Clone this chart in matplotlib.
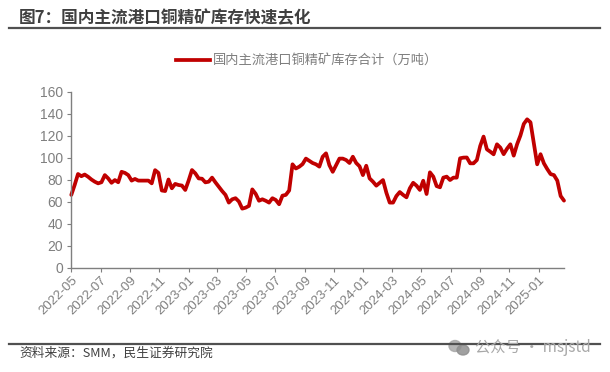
import pandas as pd
import matplotlib
matplotlib.use('Agg')
import matplotlib.pyplot as plt
import matplotlib.dates as mdates
from matplotlib.lines import Line2D
from matplotlib.patches import Ellipse

plt.rcParams['font.family'] = ['Noto Sans CJK SC', 'DejaVu Sans']

# weekly readings (10k tons)
inventory = [
    66, 75, 85, 83, 84.5, 82.5, 80, 78, 76.5, 77.5, 84, 81, 77, 79.5, 77.5, 87, 86, 84,
    79, 80.5, 79, 79, 79, 79, 76.5, 88.5, 86, 70, 69.5, 80, 72, 76, 75, 74.5, 70.5, 79,
    88.6, 85.6, 81, 80.7, 77.4, 78, 81.7, 77.4, 73.5, 69.5, 66, 59, 62, 63, 60, 53.5,
    54.4, 56, 71, 67, 60.7, 62, 60.7, 59, 63, 61.4, 57.5, 65.3, 66, 70, 93.8, 90, 91.6,
    94, 99, 97, 95, 93.8, 91.7, 100.7, 103.8, 93, 87, 93, 99, 99, 97.7, 95, 100.7, 95,
    92, 84, 92.5, 81, 78, 74.4, 77, 79.5, 68, 59, 59, 65, 68.6, 66, 63.8, 72, 77, 74.4,
    70.5, 78.9, 66.8, 86.5, 82.6, 74, 72.9, 81.7, 82.6, 79.5, 81.7, 81.7, 99.3, 99.9,
    100, 94.7, 94.7, 97.7, 110.5, 119, 107.4, 105.3, 102.9, 112, 109, 103, 108, 112,
    101.7, 112, 120, 130.5, 134.7, 132, 112.9, 93.8, 103, 94.7, 89.5, 84.9, 84, 79, 65,
    60.8,
]
dates = pd.date_range('2022-05-01', periods=len(inventory), freq='7D')
yticks = [0, 20, 40, 60, 80, 100, 120, 140, 160]

title = '图7：国内主流港口铜精矿库存快速去化'
series_name = '国内主流港口铜精矿库存合计（万吨）'
source = '资料来源：SMM，民生证券研究院'
watermark = '公众号 · msjstd'

W, H = 610, 372
fig = plt.figure(figsize=(W / 100, H / 100), dpi=100)
ax = fig.add_axes([71.3 / W, 1 - 267.5 / H, (564 - 71.3) / W, 176 / H])

ax.plot(dates, inventory, color='#C00000', lw=2.7, solid_joinstyle='round', solid_capstyle='round', clip_on=False)
ax.set_xlim(dates[0], dates[-1])
ax.set_ylim(0, 160)
ax.set_yticks(yticks)
ax.xaxis.set_major_locator(mdates.MonthLocator(bymonth=[1, 3, 5, 7, 9, 11]))
ax.xaxis.set_major_formatter(mdates.DateFormatter('%Y-%m'))
for s in ['top', 'right']:
    ax.spines[s].set_visible(False)
for s in ['left', 'bottom']:
    ax.spines[s].set_color('#7f7f7f')
    ax.spines[s].set_linewidth(1)
ax.tick_params(axis='x', direction='out', length=3, color='#7f7f7f', labelcolor='#7f7f7f', pad=2)
ax.tick_params(axis='y', direction='out', length=3, color='#7f7f7f', labelcolor='#7f7f7f', pad=3)
for t in ax.get_yticklabels():
    t.set_fontfamily('Liberation Sans')
    t.set_fontsize(10)
for t in ax.get_xticklabels():
    t.set_fontfamily('Liberation Sans')
    t.set_fontsize(9.5)
    t.set_rotation(45)
    t.set_ha('right')
    t.set_rotation_mode('anchor')

handle = Line2D([], [], color='#C00000', lw=2.7)
fig.legend([handle], [series_name], loc='center', bbox_to_anchor=(307 / W, 1 - 61 / H), frameon=False,
           fontsize=9.5, labelcolor='#7f7f7f', handlelength=2.6, handletextpad=0.2)

fig.text(19 / W, 1 - 18.5 / H, title, fontsize=12, fontweight='bold', color='#404040', va='center')
fig.add_artist(Line2D([9 / W, 600 / W], [1 - 28 / H] * 2, color='#505050', lw=1.6))
fig.add_artist(Line2D([9 / W, 600 / W], [1 - 344 / H] * 2, color='#505050', lw=1.6))
fig.text(19 / W, 1 - 353.5 / H, source, fontsize=9.2, color='#404040', va='center')

# watermark
wm = '#a8a8a8'
fig.add_artist(Ellipse((455 / W, 1 - 346 / H), 12 / W, 11 / H, color=wm, alpha=0.85))
fig.add_artist(Ellipse((463 / W, 1 - 350 / H), 12 / W, 10 / H, color='#8f8f8f', alpha=0.85))
fig.text(475 / W, 1 - 347.5 / H, watermark, fontsize=11, color=wm, va='center')

fig.savefig('out.png', dpi=100)
